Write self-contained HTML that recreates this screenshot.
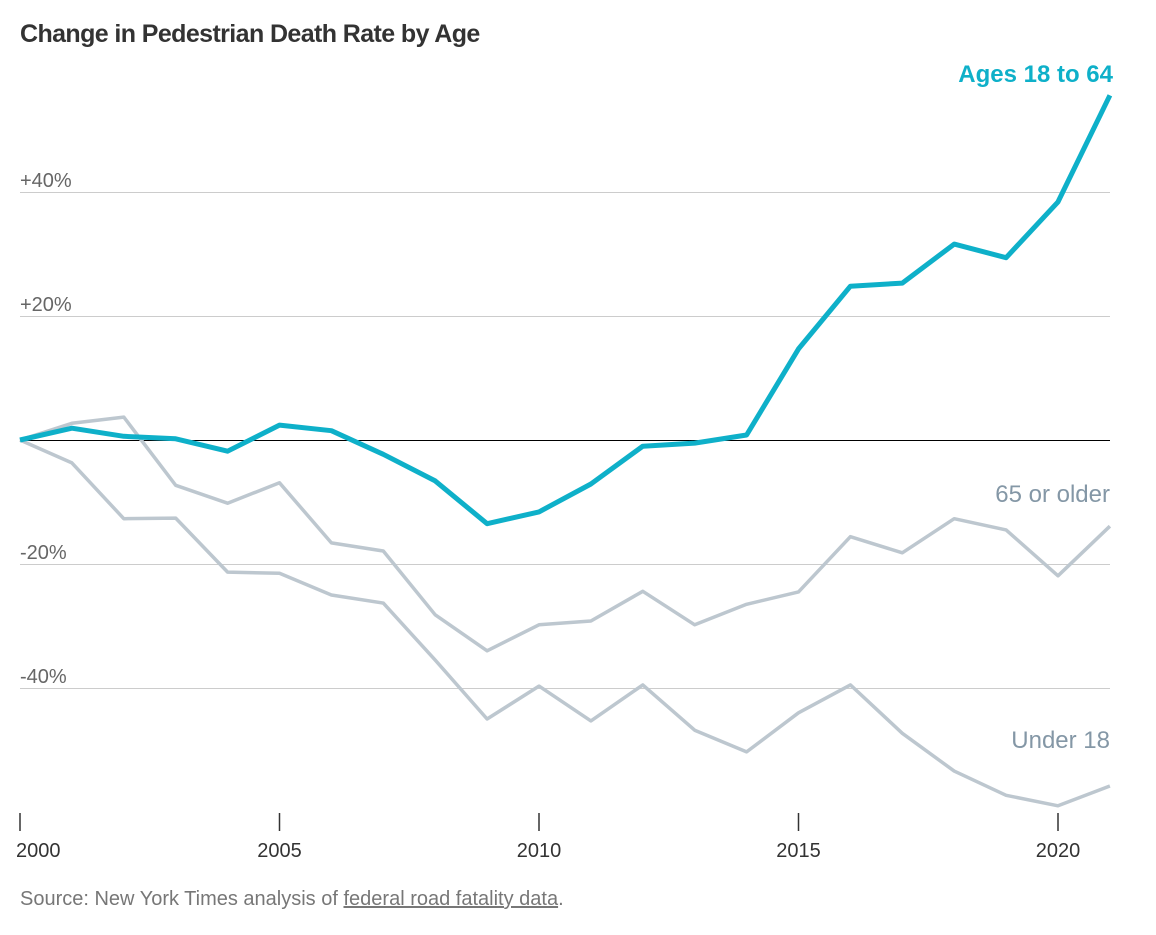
<!DOCTYPE html>
<html><head><meta charset="utf-8"><style>
body{margin:0;background:#fff;width:1156px;height:930px;overflow:hidden;font-family:"Liberation Sans",sans-serif}
</style></head><body>
<svg width="1156" height="930">
<text x="20" y="42" font-size="25" font-weight="bold" fill="#333" letter-spacing="-0.6">Change in Pedestrian Death Rate by Age</text>
<g id="grid"></g><g id="lines"></g><g id="xaxis"></g>
<text x="20" y="905" font-size="20" fill="#777">Source: New York Times analysis of <tspan text-decoration="underline">federal road fatality data</tspan>.</text>
</svg>
<script>
const years=[2000,2001,2002,2003,2004,2005,2006,2007,2008,2009,2010,2011,2012,2013,2014,2015,2016,2017,2018,2019,2020,2021];
const adults=[0,1.9,0.6,0.2,-1.8,2.4,1.5,-2.3,-6.6,-13.5,-11.6,-7.1,-1.0,-0.5,0.8,14.7,24.8,25.3,31.6,29.4,38.4,55.6];
const seniors=[0,2.7,3.7,-7.3,-10.2,-6.9,-16.6,-17.9,-28.2,-34.0,-29.8,-29.2,-24.4,-29.8,-26.5,-24.5,-15.6,-18.2,-12.7,-14.5,-21.9,-13.9];
const under18=[0,-3.7,-12.7,-12.6,-21.3,-21.5,-25.0,-26.3,-35.5,-45.0,-39.7,-45.3,-39.5,-46.8,-50.3,-44.0,-39.5,-47.3,-53.4,-57.3,-59.0,-55.8];
const yTicks=[40,20,0,-20,-40];
const yTickLabels=["+40%","+20%","","-20%","-40%"];
const xTicks=[2000,2005,2010,2015,2020];
const X=y=>20+(y-2000)*51.9;
const Y=v=>440-v*6.2;
const ns="http://www.w3.org/2000/svg";
function mk(p,t,a){const e=document.createElementNS(ns,t);for(const k in a)e.setAttribute(k,a[k]);document.getElementById(p).appendChild(e);return e;}
yTicks.forEach((v,i)=>{
 const l=mk('grid','line',{x1:20,x2:1110,y1:Y(v)+0.5,y2:Y(v)+0.5,stroke:v===0?'#000':'#ccc','stroke-width':1});
 
 
 if(yTickLabels[i]){const t=mk('grid','text',{x:20,y:Y(v)-5,'font-size':20,fill:'#666'});t.textContent=yTickLabels[i];
 
 }
});
xTicks.forEach(yr=>{
 const l=mk('xaxis','line',{x1:X(yr),x2:X(yr),y1:813,y2:831,stroke:'#333','stroke-width':1.5});
 
 
 const t=mk('xaxis','text',{x:X(yr),y:857,'font-size':20,fill:'#333','text-anchor':yr===2000?'start':'middle'});
 if(yr===2000)t.setAttribute('x',X(yr)-4);
 t.textContent=yr;
 
 
});
function line(vals,color,w,name){
 const d=vals.map((v,i)=>(i?'L':'M')+X(years[i]).toFixed(1)+','+Y(v).toFixed(1)).join('');
 const p=mk('lines','path',{d:d,fill:'none',stroke:color,'stroke-width':w,'stroke-linejoin':'round'});
 
 
}
line(under18,'#bdc7cf',3.5,'line-under-18');
line(seniors,'#bdc7cf',3.5,'line-65-or-older');
line(adults,'#0eb0c9',5,'line-ages-18-64');
function lab(txt,x,y,c,b,n){const t=mk('lines','text',{x:x,y:y,'font-size':24,fill:c,'text-anchor':'end','font-weight':b?'bold':'normal'});t.textContent=txt;
 
 }
lab('Ages 18 to 64',1113,82,'#0eb0c9',true,'label-ages-18-64');
lab('65 or older',1110,502,'#8497a6',false,'label-65-or-older');
lab('Under 18',1110,748,'#8497a6',false,'label-under-18');
</script>
</body></html>
